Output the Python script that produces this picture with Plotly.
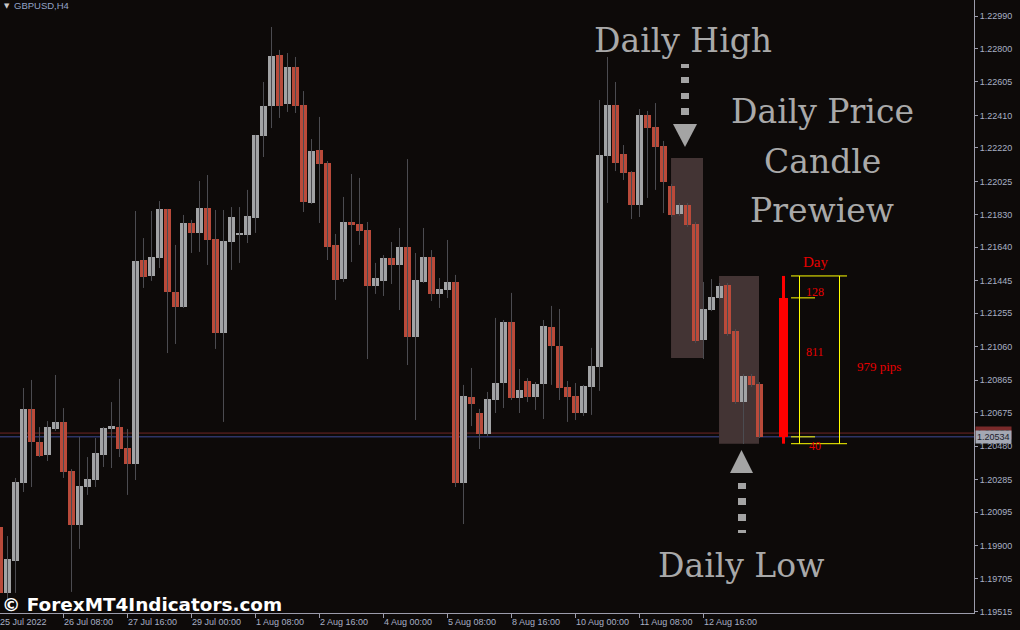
import plotly.graph_objects as go

# ---------------- data (GBPUSD, H4) ----------------
opens = [1.20008, 1.19623, 1.19809, 1.20265, 1.20697, 1.20504, 1.20428, 1.20580, 1.20621, 1.20335,
         1.20020, 1.20241, 1.20282, 1.20428, 1.20580, 1.20591, 1.20469, 1.20376, 1.21566, 1.21473,
         1.21578, 1.21864, 1.21379, 1.21292, 1.21782, 1.21724, 1.21870, 1.21689, 1.21140, 1.21671,
         1.21715, 1.21712, 1.21811, 1.22290, 1.22465, 1.22762, 1.22476, 1.22692, 1.22471, 1.21899,
         1.22208, 1.22132, 1.21654, 1.21455, 1.21788, 1.21776, 1.21741, 1.21414, 1.21444, 1.21578,
         1.21537, 1.21642, 1.21117, 1.21438, 1.21584, 1.21368, 1.21391, 1.21438, 1.20265, 1.20767,
         1.20673, 1.20551, 1.20749, 1.20848, 1.21204, 1.20761, 1.20860, 1.20767, 1.20842, 1.21175,
         1.21064, 1.20825, 1.20772, 1.20673, 1.20825, 1.20942, 1.22173, 1.22471, 1.22185, 1.22080,
         1.21887, 1.22412, 1.22342, 1.22231, 1.21998, 1.21835, 1.21887, 1.21776, 1.21099, 1.21274,
         1.21344, 1.21420, 1.21152, 1.20737, 1.20889, 1.20842]
closes = [1.19623, 1.19821, 1.20271, 1.20697, 1.20504, 1.20422, 1.20591, 1.20621, 1.20329, 1.20020,
          1.20247, 1.20288, 1.20440, 1.20586, 1.20597, 1.20463, 1.20376, 1.21560, 1.21467, 1.21584,
          1.21864, 1.21379, 1.21292, 1.21782, 1.21724, 1.21870, 1.21683, 1.21140, 1.21677, 1.21817,
          1.21718, 1.21823, 1.22296, 1.22465, 1.22757, 1.22465, 1.22692, 1.22465, 1.21905, 1.22202,
          1.22126, 1.21642, 1.21449, 1.21788, 1.21770, 1.21735, 1.21414, 1.21461, 1.21578, 1.21537,
          1.21642, 1.21117, 1.21449, 1.21584, 1.21368, 1.21397, 1.21438, 1.20265, 1.20772, 1.20726,
          1.20551, 1.20755, 1.20848, 1.21204, 1.20761, 1.20807, 1.20767, 1.20842, 1.21181, 1.21064,
          1.20819, 1.20767, 1.20673, 1.20831, 1.20947, 1.22179, 1.22471, 1.22132, 1.22074, 1.21887,
          1.22412, 1.22336, 1.22226, 1.22021, 1.21829, 1.21887, 1.21770, 1.21093, 1.21280, 1.21350,
          1.21414, 1.21134, 1.20737, 1.20889, 1.20837, 1.20534]
highs = [1.20049, 1.19955, 1.20294, 1.20819, 1.20866, 1.20591, 1.20626, 1.20895, 1.20702, 1.20346,
         1.20533, 1.20416, 1.20527, 1.20591, 1.20737, 1.20872, 1.20580, 1.21852, 1.21694, 1.21852,
         1.21910, 1.21864, 1.21654, 1.21829, 1.21800, 1.22027, 1.22062, 1.21858, 1.21858, 1.21875,
         1.21875, 1.21975, 1.22296, 1.22605, 1.22926, 1.22792, 1.22774, 1.22751, 1.22552, 1.22272,
         1.22401, 1.22144, 1.21718, 1.21934, 1.22068, 1.22045, 1.21788, 1.21549, 1.21595, 1.21671,
         1.21753, 1.22155, 1.21607, 1.21753, 1.21624, 1.21461, 1.21683, 1.21479, 1.20837, 1.20936,
         1.20697, 1.20796, 1.21228, 1.21216, 1.21374, 1.20930, 1.20877, 1.20854, 1.21216, 1.21298,
         1.21280, 1.20860, 1.20848, 1.20837, 1.21053, 1.22500, 1.22751, 1.22605, 1.22237, 1.22085,
         1.22447, 1.22436, 1.22482, 1.22261, 1.22010, 1.21899, 1.21899, 1.21788, 1.21438, 1.21455,
         1.21432, 1.21432, 1.21163, 1.20901, 1.20901, 1.20854]
lows = [1.19582, 1.19582, 1.19623, 1.20212, 1.20241, 1.20416, 1.20393, 1.20568, 1.20294, 1.19629,
        1.19880, 1.20195, 1.20241, 1.20358, 1.20352, 1.20416, 1.20195, 1.20282, 1.21403, 1.21444,
        1.21519, 1.21023, 1.21076, 1.21286, 1.21607, 1.21613, 1.21537, 1.21047, 1.20621, 1.21508,
        1.21549, 1.21665, 1.21724, 1.22167, 1.22336, 1.22395, 1.22430, 1.22424, 1.21846, 1.21893,
        1.21782, 1.21566, 1.21333, 1.21438, 1.21554, 1.21654, 1.20988, 1.21368, 1.21356, 1.21426,
        1.21274, 1.20953, 1.20632, 1.21432, 1.21327, 1.21286, 1.21344, 1.20241, 1.20025, 1.20597,
        1.20463, 1.20539, 1.20673, 1.20702, 1.20749, 1.20673, 1.20737, 1.20691, 1.20638, 1.20837,
        1.20749, 1.20621, 1.20632, 1.20656, 1.20662, 1.20802, 1.21899, 1.22085, 1.22033, 1.21805,
        1.21817, 1.21928, 1.21975, 1.21840, 1.21817, 1.21823, 1.21759, 1.21082, 1.20988, 1.21268,
        1.21338, 1.21123, 1.20726, 1.20492, 1.20825, 1.20527]

tick_idx = [0, 8, 16, 24, 32, 40, 48, 56, 64, 72, 80, 88]
tick_labels = ["25 Jul 2022", "26 Jul 08:00", "27 Jul 16:00", "29 Jul 00:00", "1 Aug 08:00",
               "2 Aug 16:00", "4 Aug 00:00", "5 Aug 08:00", "8 Aug 16:00", "10 Aug 00:00",
               "11 Aug 08:00", "12 Aug 16:00"]
price_ticks = [1.22990, 1.22800, 1.22605, 1.22410, 1.22220, 1.22025, 1.21830, 1.21640, 1.21445,
               1.21255, 1.21060, 1.20865, 1.20675, 1.20480, 1.20285, 1.20095, 1.19900, 1.19705,
               1.19515]

symbol_title = "GBPUSD,H4"
bid_price = 1.20534
ask_price = 1.20556

day_high, day_open, day_close, day_low = 1.21473, 1.21345, 1.20534, 1.20494
prev_day_high, prev_day_low = 1.22161, 1.20994

# ---------------- style ----------------
BG = "#0d0a09"
BULL = "#a2a3a5"
BEAR = "#b94a3a"
WICK = "#4b4b50"
AXIS = "#9c9cab"
TICKC = "#a8b0c4"
TXT = "#a9a9a9"
PW, PH = 974, 613
Y0, Y1 = 1.195059, 1.230834
X0 = 0.0625


def px(x):
    return x / PW


def py(y):
    return 1 - y / PH


n = len(opens)
idx = list(range(n))

fig = go.Figure()

# wicks
wx, wy = [], []
for i in idx:
    wx += [i, i, None]
    wy += [highs[i], lows[i], None]
fig.add_trace(go.Scatter(x=wx, y=wy, mode="lines", line=dict(color=WICK, width=1),
                         hoverinfo="skip", showlegend=False))

# bodies
bases = [min(o, c) for o, c in zip(opens, closes)]
heights = [max(abs(c - o), 0.00004) for o, c in zip(opens, closes)]
colors = [BULL if c >= o else BEAR for o, c in zip(opens, closes)]
fig.add_trace(go.Bar(x=idx, y=heights, base=bases, width=0.875,
                     marker=dict(color=colors, line=dict(width=0)),
                     hoverinfo="skip", showlegend=False))

# daily candle preview indicator
IX = 98
fig.add_trace(go.Scatter(x=[IX, IX], y=[day_high, day_low], mode="lines",
                         line=dict(color="#ff0000", width=3), hoverinfo="skip", showlegend=False))
fig.add_trace(go.Bar(x=[IX], y=[day_open - day_close], base=[day_close], width=1.125,
                     marker=dict(color="#ff0000", line=dict(width=0)),
                     hoverinfo="skip", showlegend=False))
yx = [98.94, 105.94, None, 98.94, 105.94, None, 100, 100, None, 105, 105, None,
      98.94, 101.94, None, 98.94, 101.94]
yy = [day_high, day_high, None, day_low, day_low, None, day_high, day_low, None,
      day_high, day_low, None, day_open, day_open, None, day_close, day_close]
fig.add_trace(go.Scatter(x=yx, y=yy, mode="lines", line=dict(color="#ffff00", width=1),
                         hoverinfo="skip", showlegend=False))

shapes = []
# daily range boxes
shapes.append(dict(type="rect", xref="x", yref="y", x0=83.94, x1=87.94,
                   y0=prev_day_low, y1=prev_day_high, fillcolor="#433434",
                   line=dict(width=0), layer="below"))
shapes.append(dict(type="rect", xref="x", yref="y", x0=89.94, x1=94.94,
                   y0=day_low, y1=day_high, fillcolor="#433434",
                   line=dict(width=0), layer="below"))
# bid / ask lines
shapes.append(dict(type="line", xref="paper", yref="y", x0=0, x1=1, y0=ask_price, y1=ask_price,
                   line=dict(color="#6e2626", width=1), layer="below"))
shapes.append(dict(type="line", xref="paper", yref="y", x0=0, x1=1, y0=bid_price, y1=bid_price,
                   line=dict(color="#3f4a96", width=1), layer="below"))

ARROW = "#a4a4a4"
# daily high arrow (dotted + down triangle)
for (a, b) in [(64, 68), (77, 83), (93, 99), (108, 115)]:
    shapes.append(dict(type="rect", xref="paper", yref="paper", x0=px(681), x1=px(689),
                       y0=py(b), y1=py(a), fillcolor=ARROW, line=dict(width=0)))
shapes.append(dict(type="path", xref="paper", yref="paper",
                   path=f"M {px(673)} {py(124)} L {px(697)} {py(124)} L {px(685)} {py(147)} Z",
                   fillcolor=ARROW, line=dict(width=0)))
# daily low arrow (up triangle + dotted)
shapes.append(dict(type="path", xref="paper", yref="paper",
                   path=f"M {px(730)} {py(473)} L {px(753)} {py(473)} L {px(741.5)} {py(450)} Z",
                   fillcolor=ARROW, line=dict(width=0)))
for (a, b) in [(483, 489), (498, 505), (514, 521), (530, 533)]:
    shapes.append(dict(type="rect", xref="paper", yref="paper", x0=px(738), x1=px(746),
                       y0=py(b), y1=py(a), fillcolor=ARROW, line=dict(width=0)))

ann = []
# x tick labels (left aligned, MT4 style)
for i, lab in zip(tick_idx, tick_labels):
    ann.append(dict(x=max(i, X0), y=0, xref="x", yref="paper", text=lab, showarrow=False,
                    xanchor="left", yanchor="top", xshift=-2, yshift=-2,
                    font=dict(family="Liberation Sans, Arial", size=9, color=TICKC)))
# title
ann.append(dict(x=px(2), y=py(6), xref="paper", yref="paper", text="▼", showarrow=False,
                xanchor="left", yanchor="middle",
                font=dict(family="DejaVu Sans", size=7, color="#c8c8c8")))
ann.append(dict(x=px(12), y=py(6), xref="paper", yref="paper", text=symbol_title,
                showarrow=False, xanchor="left", yanchor="middle",
                font=dict(family="Liberation Sans, Arial", size=9.5, color="#93a3c6")))
# price labels on axis
ann.append(dict(x=1, y=ask_price, xref="paper", yref="y", text=f"{ask_price:.5f}", showarrow=False,
                xanchor="left", yanchor="middle", xshift=1, bgcolor="#7a2a2a", borderpad=1,
                font=dict(family="Liberation Sans, Arial", size=9, color="#1a1a1a")))
ann.append(dict(x=1, y=bid_price, xref="paper", yref="y", text=f"{bid_price:.5f}", showarrow=False,
                xanchor="left", yanchor="middle", xshift=1, bgcolor="#a4a8b4", borderpad=1,
                font=dict(family="Liberation Sans, Arial", size=9, color="#1c1c2c")))
# big captions
SERIF = "DejaVu Serif"
ann.append(dict(x=px(683), y=py(40), xref="paper", yref="paper", text="Daily High",
                xanchor="center", yanchor="middle",
                showarrow=False, font=dict(family=SERIF, size=33, color=TXT)))
for t, yv in [("Daily Price", 111), ("Candle", 161), ("Prewiew", 211)]:
    ann.append(dict(x=px(822), y=py(yv), xref="paper", yref="paper", text=t,
                    xanchor="center", yanchor="middle",
                    showarrow=False, font=dict(family=SERIF, size=33, color=TXT)))
ann.append(dict(x=px(741), y=py(565), xref="paper", yref="paper", text="Daily Low",
                xanchor="center", yanchor="middle",
                showarrow=False, font=dict(family=SERIF, size=33, color=TXT)))
# indicator texts
RED = "#e60000"
TNR = "Liberation Serif, Times New Roman"
upper = round((day_high - day_open) * 1e5)
body = round((day_open - day_close) * 1e5)
lower = round((day_close - day_low) * 1e5)
total = round((day_high - day_low) * 1e5)
ann.append(dict(x=102, y=day_high, xref="x", yref="y", text="Day", showarrow=False,
                xanchor="center", yanchor="middle", yshift=14,
                font=dict(family=TNR, size=15, color=RED)))
ann.append(dict(x=101.94, y=(day_high + day_open) / 2, xref="x", yref="y", text=str(upper),
                xanchor="center", yanchor="middle",
                showarrow=False, yshift=-5, font=dict(family=TNR, size=12, color=RED)))
ann.append(dict(x=101.94, y=(day_open + day_close) / 2, xref="x", yref="y", text=str(body),
                xanchor="center", yanchor="middle",
                showarrow=False, yshift=15, font=dict(family=TNR, size=12, color=RED)))
ann.append(dict(x=109.94, y=(day_high + day_low) / 2, xref="x", yref="y", text=f"{total} pips",
                xanchor="center", yanchor="middle",
                showarrow=False, yshift=-7, font=dict(family=TNR, size=13, color=RED)))
ann.append(dict(x=101.94, y=(day_close + day_low) / 2, xref="x", yref="y", text=str(lower),
                xanchor="center", yanchor="middle",
                showarrow=False, yshift=-6, font=dict(family=TNR, size=12, color=RED)))
# watermark
ann.append(dict(x=0, y=py(604), xref="paper", yref="paper",
                text="<b>© ForexMT4Indicators.com</b>", showarrow=False,
                xanchor="left", yanchor="middle",
                font=dict(family="DejaVu Sans", size=18.4, color="#ffffff")))

fig.update_layout(
    width=1020, height=630,
    margin=dict(l=0, r=1020 - PW, t=0, b=630 - PH, pad=0),
    paper_bgcolor=BG, plot_bgcolor=BG,
    barmode="overlay", bargap=0,
    showlegend=False,
    shapes=shapes, annotations=ann,
    xaxis=dict(range=[X0, X0 + PW / 8], showgrid=False, zeroline=False,
               showline=True, linecolor=AXIS, linewidth=1, mirror=False,
               ticks="outside", ticklen=4, tickcolor=AXIS, tickvals=tick_idx,
               showticklabels=False, fixedrange=True),
    yaxis=dict(range=[Y0, Y1], side="right", showgrid=False, zeroline=False,
               showline=True, linecolor=AXIS, linewidth=1,
               ticks="outside", ticklen=3, tickcolor=AXIS,
               tickvals=price_ticks, ticktext=[f"{v:.5f}" for v in price_ticks],
               tickfont=dict(family="Liberation Sans, Arial", size=9, color=TICKC),
               automargin=False, fixedrange=True),
)

fig.write_html("out.html", config={"displayModeBar": False},
               post_script="document.body.style.margin='0';document.body.style.padding='0';"
                           "document.body.style.background='" + BG + "';")
